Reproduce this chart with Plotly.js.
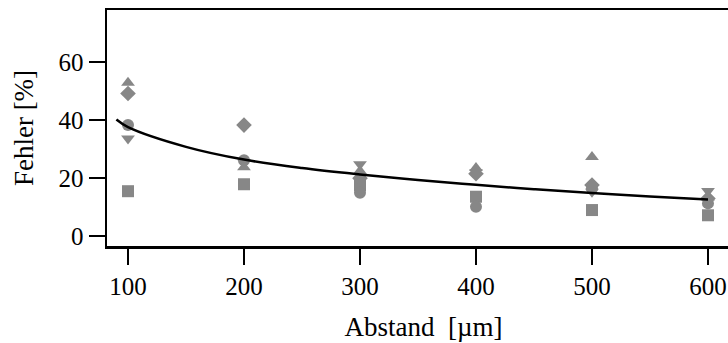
<!DOCTYPE html>
<html><head><meta charset="utf-8">
<script src="https://cdn.plot.ly/plotly-3.0.1.min.js"></script>
<style>html,body{margin:0;padding:0;overflow:hidden;width:728px;height:343px;background:#fff}</style>
</head><body><div id="plot"></div>
<script>
const distances = [100, 200, 300, 400, 500, 600];
const seriesTriUp   = [52.9, 23.8, 22.5, 23.5, 27.3, 13.3];
const seriesDiamond = [49.2, 38.3, 20.0, 21.5, 17.6, 13.0];
const seriesCircle  = [38.3, 26.2, 15.0, 10.1, 16.5, 11.3];
const seriesTriDown = [33.7, 25.5, 24.8, 22.0, 15.3, 15.6];
const seriesSquare  = [15.5, 17.9, 17.5, 13.6, 9.0, 7.2];
const fitX = [90, 100, 150, 200, 250, 300, 350, 400, 450, 500, 550, 600];
const fitY = [40.2, 37.6, 30.8, 26.4, 23.5, 21.3, 19.4, 17.7, 16.2, 14.9, 13.7, 12.6];

const grey = 'rgb(135,135,135)';
function pts(y, sym){ return {x: distances, y: y, mode:'markers', type:'scatter',
  marker:{symbol: sym, color: grey, size: 12, line:{width:0}}, hoverinfo:'skip'}; }

const data = [
  pts(seriesSquare,'square'),
  pts(seriesCircle,'circle'),
  pts(seriesTriDown,'triangle-down'),
  pts(seriesDiamond,'diamond'),
  pts(seriesTriUp,'triangle-up'),
  {x: fitX, y: fitY, mode:'lines', type:'scatter', line:{color:'black', width:2.5, shape:'spline', smoothing:1}, hoverinfo:'skip'}
];
const fam = '"Liberation Serif", "DejaVu Serif", serif';
const tickFont = {family: fam, size:25, color:'black'};
const titleFont = {family: fam, size:27, color:'black'};
const layout = {
  width: 740, height: 343,
  margin: {l:107, r:0, t:10, b:97},
  showlegend: false,
  paper_bgcolor:'white', plot_bgcolor:'white',
  font: tickFont,
  xaxis: {range:[81.9, 627.6], tickvals: distances, ticktext: distances.map(String),
    ticks:'outside', ticklen:16, tickwidth:2.5, tickcolor:'black',
    showline:true, linewidth:2.5, linecolor:'black', mirror:true, showgrid:false, zeroline:false,
    tickfont: tickFont,
    title:{text:'Abstand  [µm]', font: titleFont, standoff: 19}},
  yaxis: {range:[-3.4, 78], tickvals:[0,20,40,60],
    ticks:'outside', ticklen:16, tickwidth:2.5, tickcolor:'black',
    showline:true, linewidth:2.5, linecolor:'black', mirror:true, showgrid:false, zeroline:false,
    tickfont: tickFont,
    title:{text:'Fehler [%]', font: titleFont, standoff: 17}}
};
Plotly.newPlot('plot', data, layout, {staticPlot:true, displayModeBar:false});
</script></body></html>
